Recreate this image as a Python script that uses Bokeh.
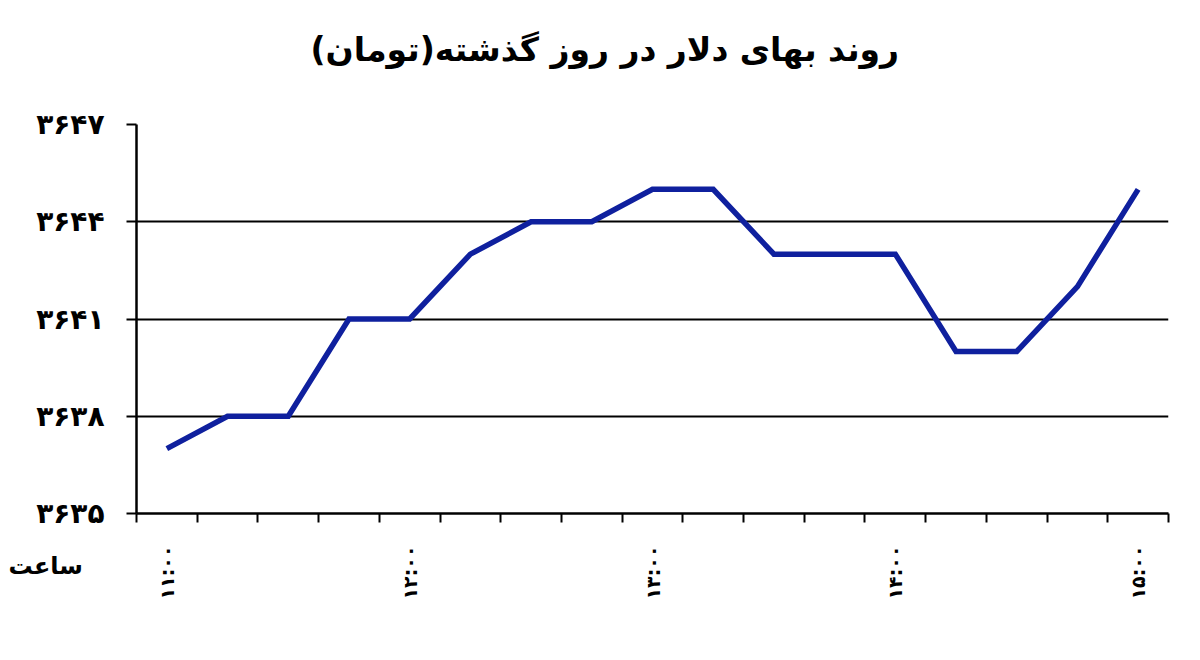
import math
from bokeh.plotting import figure
from bokeh.models import FixedTicker, Range1d, Title
from bokeh.embed import file_html
from bokeh.resources import INLINE

# ---- data ----
slot_index = list(range(17))  # 15-minute slots from 11:00 to 15:00
prices = [3637, 3638, 3638, 3641, 3641, 3643, 3644, 3644, 3645, 3645,
          3643, 3643, 3643, 3640, 3640, 3642, 3645]
hour_positions = [0, 4, 8, 12, 16]
hour_labels = ["۱۱:۰۰", "۱۲:۰۰", "۱۳:۰۰", "۱۴:۰۰", "۱۵:۰۰"]
y_ticks = [3635, 3638, 3641, 3644, 3647]
y_tick_labels = ["۳۶۳۵", "۳۶۳۸", "۳۶۴۱", "۳۶۴۴", "۳۶۴۷"]
title_text = "روند بهای دلار در روز گذشته(تومان)"
x_title = "ساعت"

FONT = "DejaVu Sans"

p = figure(width=1184, height=644, output_backend="svg", toolbar_location=None,
           x_range=Range1d(-0.5, 16.5), y_range=Range1d(3635, 3647),
           min_border_left=136, min_border_right=16, min_border_top=124,
           min_border_bottom=131, title=None)
p.outline_line_color = None
p.background_fill_color = "white"
p.border_fill_color = "white"

p.line(slot_index, prices, line_color="#0f209e", line_width=5.5, line_join="miter")

# x axis: minor ticks at slot boundaries, labels at full hours
xa = p.xaxis[0]
xa.ticker = FixedTicker(ticks=hour_positions,
                        minor_ticks=[i - 0.5 for i in range(18)])
xa.major_label_overrides = {pos: lab for pos, lab in zip(hour_positions, hour_labels)}
xa.major_label_orientation = math.pi / 2
xa.major_tick_line_color = None
xa.major_tick_out = 9
xa.major_tick_in = 0
xa.minor_tick_out = 9
xa.minor_tick_in = 0
xa.minor_tick_line_color = "black"
xa.minor_tick_line_width = 2
xa.axis_line_color = "black"
xa.axis_line_width = 2.5
xa.major_label_standoff = 23
xa.major_label_text_font = FONT
xa.major_label_text_font_style = "bold"
xa.major_label_text_font_size = "19px"
xa.major_label_text_color = "black"

# y axis
ya = p.yaxis[0]
ya.ticker = FixedTicker(ticks=y_ticks, minor_ticks=[])
ya.major_label_overrides = {t: lab for t, lab in zip(y_ticks, y_tick_labels)}
ya.major_tick_out = 10
ya.major_tick_in = 0
ya.major_tick_line_width = 2
ya.major_tick_line_color = "black"
ya.axis_line_color = "black"
ya.axis_line_width = 2.5
ya.major_label_standoff = 22
ya.major_label_text_font = FONT
ya.major_label_text_font_style = "bold"
ya.major_label_text_font_size = "28px"
ya.major_label_text_color = "black"

# grid
p.xgrid.grid_line_color = None
p.ygrid.ticker = FixedTicker(ticks=y_ticks)
p.ygrid.grid_line_color = "black"
p.ygrid.grid_line_width = 1.8
p.ygrid.grid_line_alpha = 1.0

# small spacer between the frame and the title (closest to the frame)
p.add_layout(Title(text=" ", text_font_size="1px", standoff=25), "above")

# main title (centred on the page, not on the plot frame)
p.add_layout(Title(text=title_text, align="left", offset=174, standoff=52,
                   vertical_align="top",
                   text_font=FONT, text_font_style="bold", text_font_size="33px",
                   text_color="black"), "above")

# x-axis caption at the bottom-left corner
p.add_layout(Title(text=x_title, align="left", offset=-128, standoff=-102,
                   vertical_align="top",
                   text_font=FONT, text_font_style="bold", text_font_size="24px",
                   text_color="black"), "below")

open("out.html", "w").write(file_html(p, INLINE))
